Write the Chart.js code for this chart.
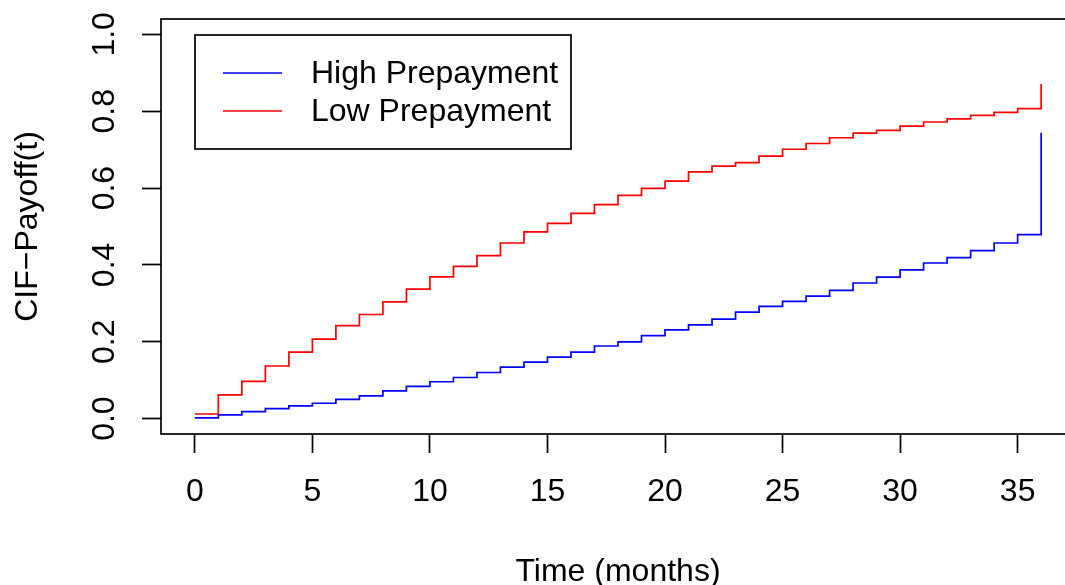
<!DOCTYPE html>
<html>
<head>
<meta charset="utf-8">
<script src="https://cdn.jsdelivr.net/npm/chart.js@4.4.1/dist/chart.umd.min.js"></script>
<style>
  html, body { margin: 0; padding: 0; background: #fff; overflow: hidden; }
  #wrap { position: relative; width: 1080px; height: 585px; }
</style>
</head>
<body>
<div id="wrap"><canvas id="c" width="1080" height="585"></canvas></div>
<script>
// ---- data ----
const months = [0,1,2,3,4,5,6,7,8,9,10,11,12,13,14,15,16,17,18,19,20,21,22,23,24,25,26,27,28,29,30,31,32,33,34,35,36];
const highPrepayment = [0.002,0.010,0.018,0.026,0.033,0.040,0.050,0.059,0.072,0.084,0.096,0.107,0.120,0.134,0.147,0.160,0.173,0.189,0.200,0.216,0.231,0.244,0.259,0.277,0.292,0.305,0.319,0.334,0.353,0.368,0.387,0.405,0.419,0.437,0.457,0.479,0.744];
const lowPrepayment = [0.012,0.062,0.097,0.137,0.173,0.207,0.242,0.271,0.304,0.337,0.369,0.396,0.424,0.457,0.486,0.508,0.534,0.557,0.581,0.599,0.618,0.642,0.657,0.666,0.683,0.701,0.716,0.731,0.743,0.750,0.761,0.772,0.780,0.789,0.797,0.807,0.871];
const seriesNames = ["High Prepayment", "Low Prepayment"];
const xTickValues = [0,5,10,15,20,25,30,35];
const yTickValues = [0,0.2,0.4,0.6,0.8,1.0];
const yTickLabels = ["0.0","0.2","0.4","0.6","0.8","1.0"];
const xTitle = "Time (months)";
const yTitle = "CIF\u2212Payoff(t)";

const FONT = '"Liberation Sans", Arial, Helvetica, sans-serif';
const FS = 32;
const LW = 1.7;

const toPoints = (ys) => months.map((m, i) => ({ x: m, y: ys[i] }));

// draws the R-style box, rotated y tick labels, and the legend
const rDecor = {
  id: 'rDecor',
  afterDraw(chart) {
    const ctx = chart.ctx;
    const a = chart.chartArea;
    ctx.save();
    // plot box
    ctx.strokeStyle = '#000';
    ctx.lineWidth = LW;
    ctx.strokeRect(a.left, a.top, a.right - a.left, a.bottom - a.top);
    // y tick labels (rotated, as in R las=0)
    const ys = chart.scales.y;
    ctx.fillStyle = '#000';
    ctx.font = FS + 'px ' + FONT;
    ctx.textAlign = 'center';
    ctx.textBaseline = 'middle';
    yTickValues.forEach((v, i) => {
      const py = ys.getPixelForValue(v);
      ctx.save();
      ctx.translate(a.left - 56, py);
      ctx.rotate(-Math.PI / 2);
      ctx.fillText(yTickLabels[i], 0, 0);
      ctx.restore();
    });
    // legend
    const lx = a.left + 34, ly = a.top + 16, lw = 376, lh = 114;
    ctx.fillStyle = '#fff';
    ctx.fillRect(lx, ly, lw, lh);
    ctx.strokeStyle = '#000';
    ctx.lineWidth = LW;
    ctx.strokeRect(lx, ly, lw, lh);
    chart.data.datasets.forEach((ds, i) => {
      const yy = ly + 38 + i * 38;
      ctx.strokeStyle = ds.borderColor;
      ctx.lineWidth = LW;
      ctx.beginPath();
      ctx.moveTo(lx + 28, yy);
      ctx.lineTo(lx + 87, yy);
      ctx.stroke();
      ctx.fillStyle = '#000';
      ctx.textAlign = 'left';
      ctx.textBaseline = 'middle';
      ctx.fillText(ds.label, lx + 116, yy + 1);
    });
    ctx.restore();
  }
};

new Chart(document.getElementById('c'), {
  type: 'line',
  data: {
    datasets: [
      { label: seriesNames[0], data: toPoints(highPrepayment), borderColor: '#0000FF', borderWidth: LW, stepped: 'before', pointRadius: 0, fill: false },
      { label: seriesNames[1], data: toPoints(lowPrepayment), borderColor: '#FF0000', borderWidth: LW, stepped: 'before', pointRadius: 0, fill: false }
    ]
  },
  options: {
    responsive: false,
    animation: false,
    devicePixelRatio: 1,
    layout: { padding: { left: 0, top: 19, right: 5, bottom: 0 } },
    plugins: { legend: { display: false }, tooltip: { enabled: false } },
    scales: {
      x: {
        type: 'linear',
        min: -1.44,
        max: 37.44,
        afterBuildTicks: (s) => { s.ticks = xTickValues.map(v => ({ value: v })); },
        afterFit: (s) => { s.height = 151; },
        grid: { display: true, drawOnChartArea: false, drawTicks: true, tickLength: 19, tickColor: '#000', tickWidth: LW },
        border: { display: false },
        ticks: { color: '#000', font: { family: FONT, size: FS }, padding: 20, maxRotation: 0, minRotation: 0, autoSkip: false, callback: (v) => String(v) },
        title: { display: true, text: xTitle, color: '#000', font: { family: FONT, size: FS, lineHeight: 0.8 }, padding: { top: 0, bottom: 0 } }
      },
      y: {
        type: 'linear',
        min: -0.04,
        max: 1.04,
        afterBuildTicks: (s) => { s.ticks = yTickValues.map(v => ({ value: v })); },
        afterFit: (s) => { s.width = 161; },
        grid: { display: true, drawOnChartArea: false, drawTicks: true, tickLength: 19, tickColor: '#000', tickWidth: LW },
        border: { display: false },
        ticks: { display: false },
        title: { display: true, text: yTitle, color: '#000', font: { family: FONT, size: FS }, padding: { top: 9, bottom: 0 } }
      }
    }
  },
  plugins: [rDecor]
});
</script>
</body>
</html>
